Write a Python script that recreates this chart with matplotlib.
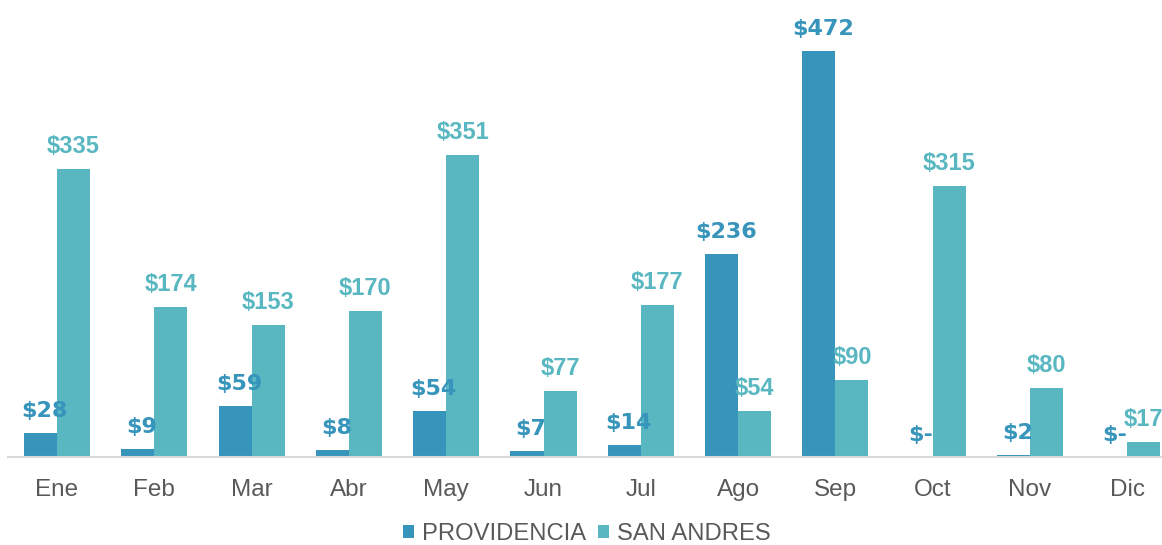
import matplotlib
matplotlib.use("Agg")
import matplotlib.pyplot as plt
from matplotlib.font_manager import FontProperties
import numpy as np

months = ["Ene", "Feb", "Mar", "Abr", "May", "Jun", "Jul", "Ago", "Sep", "Oct", "Nov", "Dic"]
providencia = [28, 9, 59, 8, 54, 7, 14, 236, 472, 0, 2, 0]
san_andres = [335, 174, 153, 170, 351, 77, 177, 54, 90, 315, 80, 17]

C_PROV = "#3795BC"
C_SAN = "#58B7C0"
GRAY = "#595959"

fp_prov = FontProperties(family="DejaVu Sans", weight="bold", size=16)
fp_san = FontProperties(family="Liberation Sans", weight="bold", size=17)
fp_tick = FontProperties(family="Liberation Sans", size=17.5)


def fmt(v):
    return "$-" if v == 0 else f"${v}"


fig = plt.figure(figsize=(11.62, 5.45), dpi=100)
ax = fig.add_axes([0.0072, 0.1615, 1.0048, 0.789])

x = np.arange(len(months))
w = 0.34
bp = ax.bar(x - w / 2, providencia, w, color=C_PROV, label="PROVIDENCIA")
bs = ax.bar(x + w / 2, san_andres, w, color=C_SAN, label="SAN ANDRES")

for xi, v in zip(x - w / 2, providencia):
    ax.annotate(fmt(v), (xi, v), xytext=(3, 11.5), textcoords="offset points",
                ha="center", va="baseline", fontproperties=fp_prov,
                color=C_PROV, annotation_clip=False)
for xi, v in zip(x + w / 2, san_andres):
    ax.annotate(fmt(v), (xi, v), xytext=(0, 11.5), textcoords="offset points",
                ha="center", va="baseline", fontproperties=fp_san,
                color=C_SAN, annotation_clip=False)

ax.set_xlim(-0.5, len(months) - 0.5)
ax.set_ylim(0, 500)
ax.set_xticks(x)
ax.set_xticklabels(months, color=GRAY)
for t in ax.get_xticklabels():
    t.set_fontproperties(fp_tick)
ax.tick_params(axis="x", length=0, pad=15.5)
ax.set_yticks([])
for s in ["top", "right", "left"]:
    ax.spines[s].set_visible(False)
ax.spines["bottom"].set_color("#D9D9D9")
ax.spines["bottom"].set_linewidth(1.5)

leg = fig.legend(handles=[bp, bs], loc="center", bbox_to_anchor=(0.505, 0.02), ncol=2,
                 frameon=False, handlelength=0.46, handleheight=0.46, handletextpad=0.33,
                 columnspacing=0.5, prop=FontProperties(family="Liberation Sans", size=17.1))
for t in leg.get_texts():
    t.set_color(GRAY)

fig.savefig("out.png", dpi=100)
